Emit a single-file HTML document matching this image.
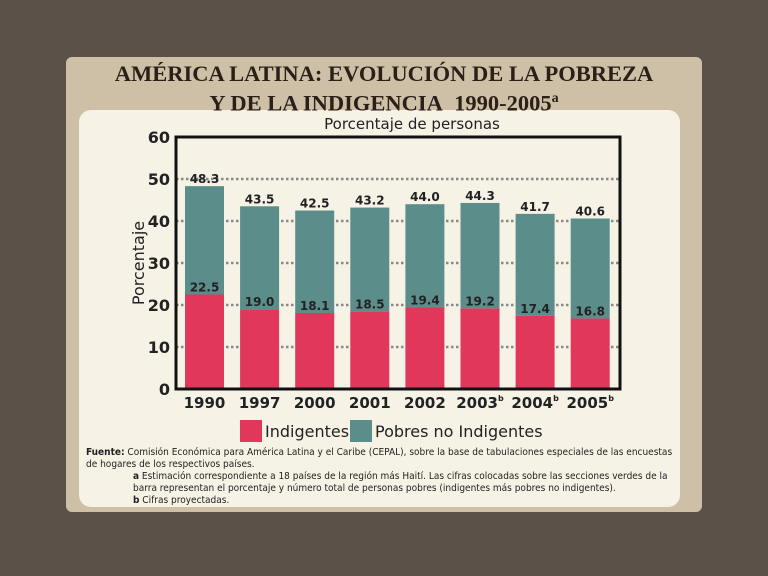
<!DOCTYPE html>
<html><head><meta charset="utf-8"><style>
body{margin:0;width:768px;height:576px;background:#5b5149;position:relative;overflow:hidden;font-family:"DejaVu Sans","Liberation Sans",sans-serif}
#beige{position:absolute;left:66px;top:57px;width:636px;height:455px;background:#cdc0a6;border-radius:6px}
#cream{position:absolute;left:79px;top:110px;width:601px;height:397px;background:#f6f2e6;border-radius:12px}
#title{position:absolute;left:66px;top:61px;width:636px;text-align:center;font-family:"Liberation Serif",serif;font-weight:bold;font-size:22.5px;line-height:25px;color:#2a2018}
.src{position:absolute;font-family:"DejaVu Sans Condensed","Liberation Sans Narrow",sans-serif;font-size:10px;color:#222;line-height:12px}
</style></head><body>
<div id="beige"></div>
<div id="cream"></div>
<div id="title">AMÉRICA LATINA: EVOLUCIÓN DE LA POBREZA<br>Y DE LA INDIGENCIA&nbsp; 1990-2005<sup style="font-size:14px">a</sup></div>
<svg id="chart" width="768" height="576" style="position:absolute;left:0;top:0"></svg>
<div class="src" style="left:86px;top:447px;width:600px"><b>Fuente:</b> Comisión Económica para América Latina y el Caribe (CEPAL), sobre la base de tabulaciones especiales de las encuestas de hogares de los respectivos países.</div>
<div class="src" style="left:133px;top:471px;width:555px"><b>a</b> Estimación correspondiente a 18 países de la región más Haití. Las cifras colocadas sobre las secciones verdes de la barra representan el porcentaje y número total de personas pobres (indigentes más pobres no indigentes).</div>
<div class="src" style="left:133px;top:495px"><b>b</b> Cifras proyectadas.</div>
<script>
const years=["1990","1997","2000","2001","2002","2003","2004","2005"];
const sup=["","","","","","b","b","b"];
const indigentes=[22.5,19.0,18.1,18.5,19.4,19.2,17.4,16.8];
const totalPobres=[48.3,43.5,42.5,43.2,44.0,44.3,41.7,40.6];
const yTicks=[0,10,20,30,40,50,60];
const NS="http://www.w3.org/2000/svg";
const svg=document.getElementById('chart');
const x0=176,x1=620,yb=389,yt=137;
const y=v=>yb-(v/60)*(yb-yt);
const xc=i=>x0+28.5+i*55.1;
function mk(t,a,txt){const e=document.createElementNS(NS,t);for(const k in a)e.setAttribute(k,a[k]);if(txt!==undefined)e.textContent=txt;svg.appendChild(e);return e;}
let e=mk('text',{x:412,y:129,'text-anchor':'middle','font-size':15,fill:'#222'},'Porcentaje de personas');

yTicks.forEach(v=>{
 if(v>0&&v<60){const g=mk('line',{x1:x0,x2:x1,y1:y(v),y2:y(v),stroke:'#888','stroke-width':2.5,'stroke-dasharray':'2.5 2.5'});
 }
 const t=mk('text',{x:170,y:y(v)+6,'text-anchor':'end','font-size':16,'font-weight':'bold',fill:'#222'},String(v));
 
});
years.forEach((yr,i)=>{
 const cx=xc(i),w=39;
 const r=mk('rect',{x:cx-w/2,y:y(indigentes[i]),width:w,height:yb-y(indigentes[i]),fill:'#e0375b'});
 
 const g=mk('rect',{x:cx-w/2,y:y(totalPobres[i]),width:w,height:y(indigentes[i])-y(totalPobres[i]),fill:'#5b8d8a'});
 
 const l1=mk('text',{x:cx,y:y(totalPobres[i])-3,'text-anchor':'middle','font-size':12,'font-weight':'bold',fill:'#222'},totalPobres[i].toFixed(1));
 
 const l2=mk('text',{x:cx,y:y(indigentes[i])-3,'text-anchor':'middle','font-size':12,'font-weight':'bold',fill:'#222'},indigentes[i].toFixed(1));
 
 const xt=mk('text',{x:cx,y:yb+19,'text-anchor':'middle','font-size':15,'font-weight':'bold',fill:'#222'},yr);
 if(sup[i]){const s=document.createElementNS(NS,'tspan');s.setAttribute('font-size',8);s.setAttribute('dy',-7);s.textContent=sup[i];xt.appendChild(s);}
 
});
const fr=mk('rect',{x:x0,y:yt,width:x1-x0,height:yb-yt,fill:'none',stroke:'#111','stroke-width':3});

const yl=mk('text',{transform:'translate(144,263) rotate(-90)','text-anchor':'middle','font-size':16,fill:'#222'},'Porcentaje');

const lg=[["#e0375b","Indigentes",240],["#5b8d8a","Pobres no Indigentes",350]];
lg.forEach(([c,t,lx])=>{
 const r=mk('rect',{x:lx,y:420,width:22,height:22,fill:c});
 const tx=mk('text',{x:lx+25,y:437,'font-size':16,fill:'#222'},t);
});
</script>
</body></html>
